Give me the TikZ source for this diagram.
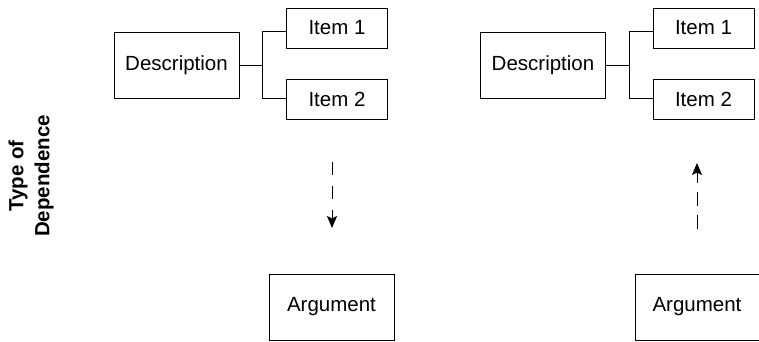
\documentclass[tikz,border=0pt]{standalone}
\usepackage{fontspec}
\setmainfont{Liberation Sans}
\usepackage{tikz}
\usetikzlibrary{shapes,arrows,arrows.meta,positioning,calc}

\tikzset{
  box/.style={draw, line width=0.8pt, inner sep=0pt, font=\fontsize{20.5}{24}\selectfont},
  bigbox/.style={box, minimum width=125pt, minimum height=66pt},
  itembox/.style={box, minimum width=101pt, minimum height=40pt},
  link/.style={line width=0.8pt},
  dep/.style={line width=0.8pt, dash pattern=on 14pt off 9pt, -{Stealth[length=12pt,width=10pt,inset=2.5pt]}}
}

\begin{document}
\begin{tikzpicture}[x=1pt,y=-1pt]
\useasboundingbox (0,0) rectangle (759,341);
% left side
\node[bigbox] (descL) at (176.5,65) {Description};
\node[itembox] (itemLa) at (337,28) {Item 1};
\node[itembox] (itemLb) at (337,99.5) {Item 2};
\node[bigbox] (argL) at (331.5,307) {Argument};
\coordinate (jL) at (262,65);
\draw[link] (descL.east) -- (jL);
\draw[link] (jL |- descL.north) -- (jL |- descL.south);
\draw[link] (jL |- descL.north) -- (itemLa.west |- descL.north);
\draw[link] (jL |- descL.south) -- (itemLb.west |- descL.south);
\coordinate (topL) at (332,162);
\coordinate (botL) at (332,228);
\draw[dep, dash pattern=on 13pt off 11pt] (topL) -- (botL);
% right side
\node[bigbox] (descR) at (543,65) {Description};
\node[itembox] (itemRa) at (703.5,28) {Item 1};
\node[itembox] (itemRb) at (703.5,99.5) {Item 2};
\node[bigbox, minimum width=124pt] (argR) at (697,307) {Argument};
\coordinate (jR) at (629,65);
\draw[link] (descR.east) -- (jR);
\draw[link] (jR |- descR.north) -- (jR |- descR.south);
\draw[link] (jR |- descR.north) -- (itemRa.west |- descR.north);
\draw[link] (jR |- descR.south) -- (itemRb.west |- descR.south);
\coordinate (topR) at (697,163);
\coordinate (botR) at (697,229);
\draw[dep] (botR) -- (topR);
% axis label
\node[rotate=90, align=center, font=\bfseries\fontsize{20.5}{26}\selectfont] (deplabel) at (31,176) {Type of\\Dependence};
\end{tikzpicture}
\end{document}
